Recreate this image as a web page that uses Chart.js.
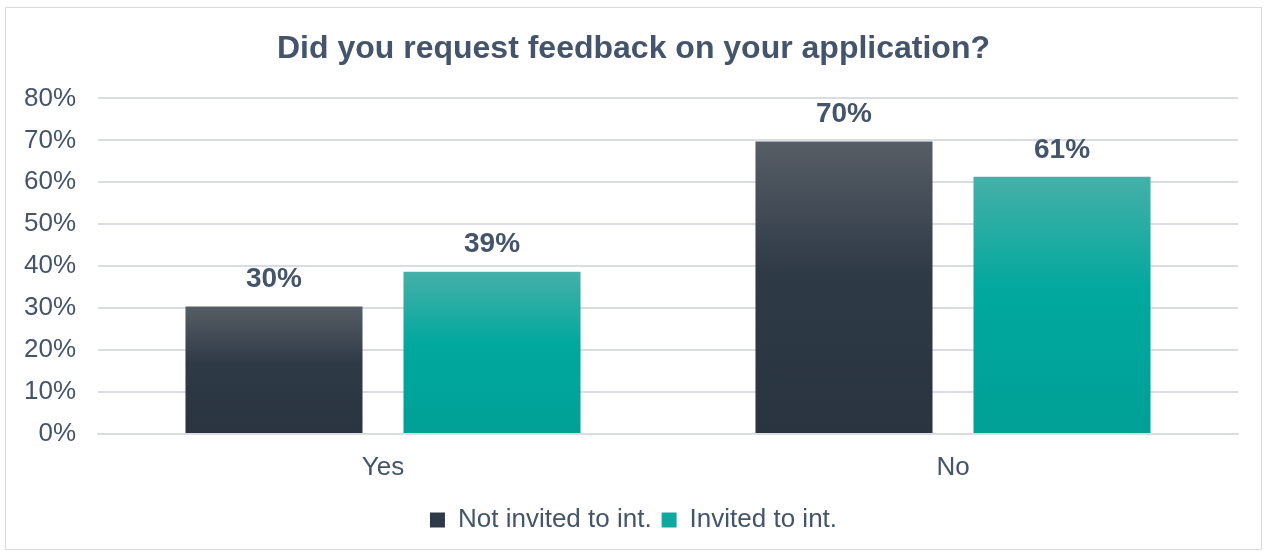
<!DOCTYPE html>
<html>
<head>
<meta charset="utf-8">
<script src="https://cdn.jsdelivr.net/npm/chart.js@4"></script>
<style>
    body { margin: 0; background: #fff; }
    #box {
        position: absolute; left: 5px; top: 7px;
        width: 1255px; height: 541px;
        border: 1px solid #d9d9d9;
    }
</style>
</head>
<body>
<div id="box"><canvas id="chart"></canvas></div>
<script>
const categories = ['Yes', 'No'];
const notInvited = [30.4, 69.7];
const invited = [38.7, 61.3];
const seriesNames = ['Not invited to int.', 'Invited to int.'];
const yTicks = [0, 10, 20, 30, 40, 50, 60, 70, 80];

const textColor = '#44546a';
const fontFamily = '"Liberation Sans", Arial, sans-serif';

// vertical gradient per bar, lighter at top
const barGradient = (top, bottom) => (context) => {
    const chart = context.chart;
    const yScale = chart.scales.y;
    if (!yScale || context.parsed === undefined) return bottom;
    const y0 = yScale.getPixelForValue(0);
    const y1 = yScale.getPixelForValue(context.parsed.y);
    if (!isFinite(y0) || !isFinite(y1) || y0 === y1) return bottom;
    const g = chart.ctx.createLinearGradient(0, y1, 0, y0);
    g.addColorStop(0, top[0]);
    g.addColorStop(0.45, top[1]);
    g.addColorStop(1, bottom);
    return g;
};

const valueLabels = {
    id: 'valueLabels',
    afterDatasetsDraw(chart) {
        const ctx = chart.ctx;
        ctx.save();
        ctx.font = 'bold 28px ' + fontFamily;
        ctx.fillStyle = textColor;
        ctx.textAlign = 'center';
        ctx.textBaseline = 'middle';
        chart.data.datasets.forEach((ds, i) => {
            chart.getDatasetMeta(i).data.forEach((bar, j) => {
                ctx.fillText(Math.round(ds.data[j]) + '%', bar.x, bar.y - 27);
            });
        });
        ctx.restore();
    }
};

const ctx = document.getElementById('chart').getContext('2d');

new Chart(ctx, {
    type: 'bar',
    data: {
        labels: categories,
        datasets: [
            {
                label: seriesNames[0],
                data: notInvited,
                backgroundColor: barGradient(['#565d65', '#2f3a47'], '#2a3441'),
                legendColor: '#2f3a47'
            },
            {
                label: seriesNames[1],
                data: invited,
                backgroundColor: barGradient(['#45b0a8', '#00a89e'], '#00a096'),
                legendColor: '#0ea89e'
            }
        ]
    },
    options: {
        animation: false,
        responsive: true,
        maintainAspectRatio: false,
        categoryPercentage: 0.765,
        barPercentage: 0.812,
        layout: { padding: { left: 0, right: 0, top: 0, bottom: 6 } },
        plugins: {
            title: {
                display: true,
                text: 'Did you request feedback on your application?',
                color: textColor,
                font: { family: fontFamily, size: 32, weight: 'bold' },
                padding: { top: 22, bottom: 30 }
            },
            legend: {
                position: 'bottom',
                labels: {
                    color: textColor,
                    font: { family: fontFamily, size: 26 },
                    boxWidth: 15,
                    boxHeight: 15,
                    padding: 10,
                    generateLabels(chart) {
                        return chart.data.datasets.map((ds, i) => ({
                            text: ds.label,
                            fillStyle: ds.legendColor,
                            strokeStyle: ds.legendColor,
                            lineWidth: 0,
                            fontColor: textColor,
                            datasetIndex: i
                        }));
                    }
                }
            },
            tooltip: { enabled: false }
        },
        scales: {
            x: {
                grid: { display: false },
                border: { color: '#d9dde3', width: 2 },
                ticks: {
                    color: textColor,
                    font: { family: fontFamily, size: 26 },
                    padding: 10
                },
                afterFit(scale) { scale.height = 63; }
            },
            y: {
                min: 0,
                max: 80,
                afterBuildTicks(scale) {
                    scale.ticks = yTicks.map(v => ({ value: v }));
                },
                grid: { color: '#d9dde3', lineWidth: 2, drawTicks: false },
                border: { display: false },
                ticks: {
                    color: textColor,
                    font: { family: fontFamily, size: 26 },
                    padding: 22,
                    callback: (v) => v + '%'
                },
                afterFit(scale) { scale.width = 92; }
            },
            // empty right margin so title and legend stay centred on the box
            yRight: {
                position: 'right',
                grid: { display: false },
                border: { display: false },
                ticks: { display: false },
                afterFit(scale) { scale.width = 23; }
            }
        }
    },
    plugins: [valueLabels]
});
</script>
</body>
</html>
